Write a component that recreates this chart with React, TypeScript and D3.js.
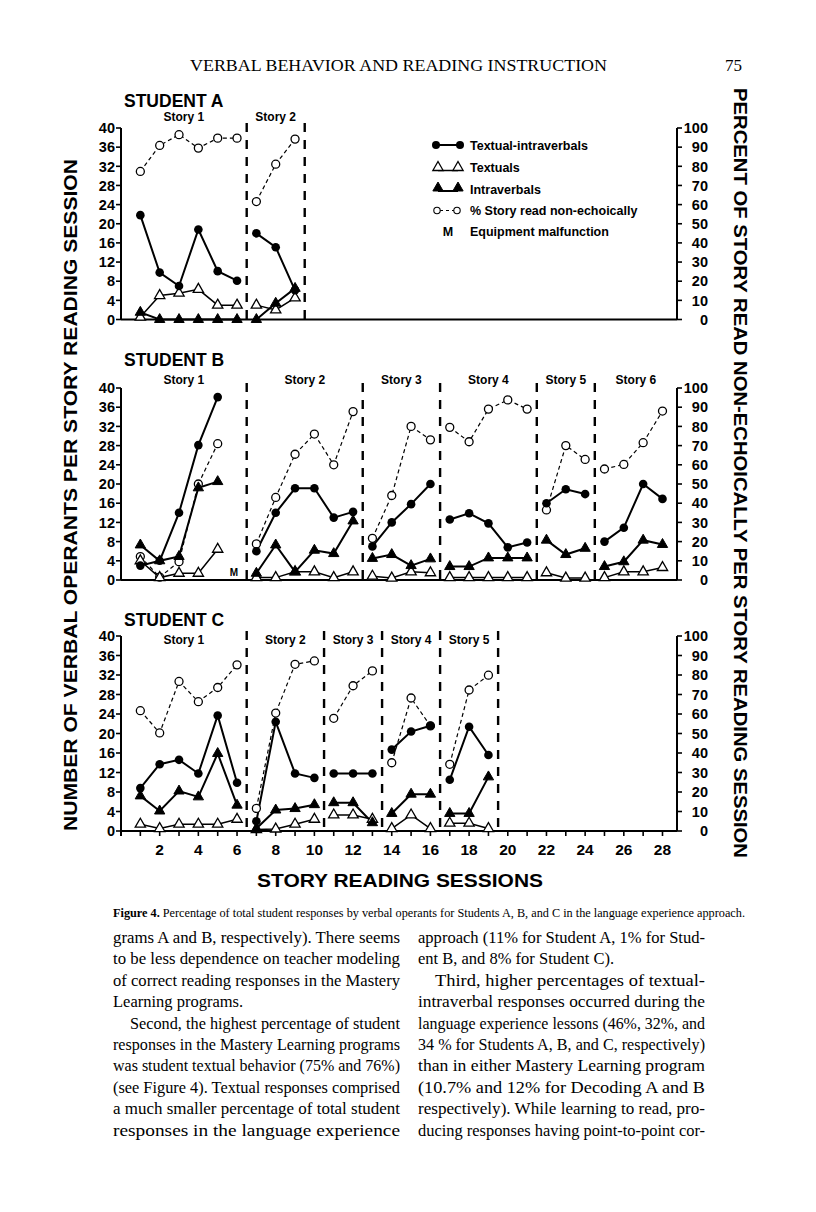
import React from 'react';
import * as d3 from 'd3';

// ---------------- data ----------------
const sessionTicks = d3.range(1, 29);
const sessionTickLabels = d3.range(2, 29, 2);
const countTicks = d3.range(0, 41, 4);
const percentTicks = d3.range(0, 101, 10);

const legendNames = ['Textual-intraverbals', 'Textuals', 'Intraverbals', '% Story read non-echoically'];
const malfunctionText = 'Equipment malfunction';

// Student A (values indexed by session, starting at session 1)
const storiesA = [[1, 6], [7, 9]];
const storyLabelsA = ['Story 1', 'Story 2'];
const textualIntraverbalA = [21.8, 9.8, 7.0, 18.8, 10.1, 8.1, 18.0, 15.1, 6.1];
const textualA = [0.5, 5, 5.5, 6.3, 3, 3, 3, 2, 4.5];
const intraverbalA = [1.5, 0, 0, 0, 0, 0, 0, 3.4, 6.5];
const percentA = [77.3, 90.9, 96.5, 89.5, 94.7, 94.7, 61.6, 81.1, 94.2];
const malfunctionA: number[] = [];

// Student B
const storiesB = [[1, 6], [7, 12], [13, 16], [17, 21], [22, 24], [25, 28]];
const storyLabelsB = ['Story 1', 'Story 2', 'Story 3', 'Story 4', 'Story 5', 'Story 6'];
const textualIntraverbalB = [3, 4, 14, 28.1, 38.1, null, 6, 14, 19.1, 19.1, 13, 14.2, 7, 12, 15.8, 20, 12.6, 13.9, 11.8, 6.8, 7.8, 16, 18.9, 17.9, 8, 10.9, 20, 16.9];
const textualB = [4, 0.5, 1.4, 1.4, 6.4, null, 0.5, 0.5, 1.7, 1.7, 0.5, 1.7, 0.8, 0.4, 1.7, 1.5, 0.5, 0.5, 0.5, 0.5, 0.5, 1.5, 0.4, 0.4, 0.5, 1.7, 1.7, 2.6];
const intraverbalB = [7.3, 4, 4.9, 19.2, 20.5, null, 1.4, 7.3, 1.7, 6.2, 5.5, 12.3, 4.5, 5.3, 3, 4.4, 2.8, 2.8, 4.6, 4.6, 4.6, 8.3, 5.3, 6.6, 2.8, 3.8, 8.3, 7.4];
const percentB = [12.2, 1.5, 9.5, 50, 71, null, 18.8, 43, 65.5, 76, 60, 87.7, 21.7, 44, 80, 73, 79.5, 72, 89, 93.8, 89, 36.5, 70, 62.8, 57.8, 60.2, 71.5, 88];
const malfunctionB = [6];

// Student C
const storiesC = [[1, 6], [7, 10], [11, 13], [14, 16], [17, 19]];
const storyLabelsC = ['Story 1', 'Story 2', 'Story 3', 'Story 4', 'Story 5'];
const textualIntraverbalC = [8.8, 13.7, 14.6, 11.8, 23.7, 9.9, 2, 22.4, 11.8, 10.9, 11.8, 11.8, 11.8, 16.7, 20.4, 21.6, 10.5, 21.4, 15.6];
const textualC = [1.4, 0.5, 1.4, 1.4, 1.4, 2.4, 0.3, 0.4, 1.4, 2.4, 3.3, 3.3, 2.4, 0.5, 3.3, 0.5, 1.6, 1.6, 0.5];
const intraverbalC = [7.2, 4.1, 8.2, 7, 15.9, 5.3, 0.5, 4.3, 4.6, 5.4, 5.8, 5.8, 1.7, 3.6, 7.55, 7.55, 3.6, 3.6, 11.1];
const percentC = [61.7, 50.3, 76.7, 66.3, 73.6, 85.2, 11.6, 60.5, 85.5, 87.2, 57.8, 74.5, 82.1, 35, 68.2, 53.9, 34.2, 72.3, 79.9];
const malfunctionC: number[] = [];

const headerTitle = 'VERBAL BEHAVIOR AND READING INSTRUCTION';
const pageNumber = '75';
const leftAxisTitle = 'NUMBER OF VERBAL OPERANTS PER STORY READING SESSION';
const rightAxisTitle = 'PERCENT OF STORY READ NON-ECHOICALLY PER STORY READING SESSION';
const xAxisTitle = 'STORY READING SESSIONS';
const captionBold = 'Figure 4.';
const captionRest = ' Percentage of total student responses by verbal operants for Students A, B, and C in the language experience approach.';

const leftColumn = [
  'grams A and B, respectively). There seems',
  'to be less dependence on teacher modeling',
  'of correct reading responses in the Mastery',
  'Learning programs.',
  'Second, the highest percentage of student',
  'responses in the Mastery Learning programs',
  'was student textual behavior (75% and 76%)',
  '(see Figure 4). Textual responses comprised',
  'a much smaller percentage of total student',
  'responses in the language experience',
];
const rightColumn = [
  'approach (11% for Student A, 1% for Stud-',
  'ent B, and 8% for Student C).',
  'Third, higher percentages of textual-',
  'intraverbal responses occurred during the',
  'language experience lessons (46%, 32%, and',
  '34 % for Students A, B, and C, respectively)',
  'than in either Mastery Learning program',
  '(10.7% and 12% for Decoding A and B',
  'respectively). While learning to read, pro-',
  'ducing responses having point-to-point cor-',
];
const leftRagged = [3];
const rightRagged = [1];
const leftIndent = [4];
const rightIndent = [2];

// ---------------- drawing ----------------
const SANS = '"Liberation Sans", Arial, Helvetica, sans-serif';
const SERIF = '"Liberation Serif", "Times New Roman", serif';
const X_LEFT = 121;
const X_RIGHT = 677;
const x = d3.scaleLinear().domain([0, 28.75]).range([X_LEFT, X_RIGHT]);
const triPath = d3.symbol().type(d3.symbolTriangle).size(46)() as string;

type PanelProps = {
  title: string;
  titleY: number;
  labelY: number;
  top: number;
  bottom: number;
  stories: number[][];
  labels: string[];
  ti: (number | null)[];
  t: (number | null)[];
  iv: (number | null)[];
  pct: (number | null)[];
  malfunction: number[];
  closingDivider: boolean;
  bottomTicks: boolean;
};

function segments(values: (number | null)[], stories: number[][]) {
  return stories.map(([s, e]) => {
    const pts: [number, number][] = [];
    for (let k = s; k <= e; k++) {
      const v = values[k - 1];
      if (v !== null && v !== undefined) pts.push([k, v]);
    }
    return pts;
  });
}

function Panel(p: PanelProps) {
  const y = d3.scaleLinear().domain([0, 40]).range([p.bottom, p.top]);
  const yp = d3.scaleLinear().domain([0, 100]).range([p.bottom, p.top]);
  const lineC = d3.line<[number, number]>().x(d => x(d[0])).y(d => y(d[1]));
  const lineP = d3.line<[number, number]>().x(d => x(d[0])).y(d => yp(d[1]));

  const dividers: number[] = [];
  p.stories.forEach(([, e], i) => {
    if (i < p.stories.length - 1 || p.closingDivider) dividers.push(e + 0.5);
  });
  const bounds = p.stories.map((_, i) => {
    const left = i === 0 ? 0 : p.stories[i - 1][1] + 0.5;
    const right = i < dividers.length ? dividers[i] : x.domain()[1];
    return (left + right) / 2;
  });

  const tiSeg = segments(p.ti, p.stories);
  const tSeg = segments(p.t, p.stories);
  const ivSeg = segments(p.iv, p.stories);
  const pSeg = segments(p.pct, p.stories);

  return (
    <g>
      <text x={124} y={p.titleY} fontFamily={SANS} fontWeight="bold" fontSize={17.5}>{p.title}</text>
      {p.labels.map((l, i) => (
        <text key={l} x={x(bounds[i])} y={p.labelY} textAnchor="middle" fontFamily={SANS} fontWeight="bold" fontSize={12}>{l}</text>
      ))}
      {/* axes */}
      <line x1={X_LEFT} x2={X_LEFT} y1={p.top} y2={p.bottom + (p.bottomTicks ? 5 : 0)} stroke="#000" strokeWidth={2} />
      <line x1={X_RIGHT} x2={X_RIGHT} y1={p.top} y2={p.bottom} stroke="#000" strokeWidth={2} />
      <line x1={X_LEFT} x2={X_RIGHT} y1={p.bottom} y2={p.bottom} stroke="#000" strokeWidth={2} />
      {countTicks.map(v => (
        <g key={'c' + v}>
          <line x1={X_LEFT - 5} x2={X_LEFT} y1={y(v)} y2={y(v)} stroke="#000" strokeWidth={1.6} />
          <text x={X_LEFT - 6} y={y(v)} dy="0.36em" textAnchor="end" fontFamily={SANS} fontWeight="bold" fontSize={14.5}>{v}</text>
        </g>
      ))}
      {percentTicks.map(v => (
        <g key={'p' + v}>
          <line x1={X_RIGHT} x2={X_RIGHT + 5} y1={yp(v)} y2={yp(v)} stroke="#000" strokeWidth={1.6} />
          <text x={708} y={yp(v)} dy="0.36em" textAnchor="end" fontFamily={SANS} fontWeight="bold" fontSize={14.5}>{v}</text>
        </g>
      ))}
      {p.bottomTicks && sessionTicks.map(s => (
        <line key={'s' + s} x1={x(s)} x2={x(s)} y1={p.bottom} y2={p.bottom + 5} stroke="#000" strokeWidth={1.6} />
      ))}
      {p.bottomTicks && sessionTickLabels.map(s => (
        <text key={'sl' + s} x={x(s)} y={p.bottom + 24} textAnchor="middle" fontFamily={SANS} fontWeight="bold" fontSize={15.5}>{s}</text>
      ))}
      {/* story dividers */}
      {dividers.map(d => (
        <line key={'d' + d} x1={x(d)} x2={x(d)} y1={p.top - 5} y2={p.bottom} stroke="#000" strokeWidth={2.4} strokeDasharray="9,8" />
      ))}
      {/* lines */}
      {pSeg.map((s, i) => <path key={'lp' + i} d={lineP(s) || ''} fill="none" stroke="#000" strokeWidth={1.2} strokeDasharray="4,3" />)}
      {tSeg.map((s, i) => <path key={'lt' + i} d={lineC(s) || ''} fill="none" stroke="#000" strokeWidth={1.5} />)}
      {ivSeg.map((s, i) => <path key={'li' + i} d={lineC(s) || ''} fill="none" stroke="#000" strokeWidth={2} />)}
      {tiSeg.map((s, i) => <path key={'lti' + i} d={lineC(s) || ''} fill="none" stroke="#000" strokeWidth={2} />)}
      {/* markers */}
      {pSeg.flat().map(([k, v]) => <circle key={'mp' + k} cx={x(k)} cy={yp(v)} r={4} fill="#fff" stroke="#000" strokeWidth={1.3} />)}
      {tSeg.flat().map(([k, v]) => <path key={'mt' + k} d={triPath} transform={`translate(${x(k)},${y(v)})`} fill="#fff" stroke="#000" strokeWidth={1.3} />)}
      {ivSeg.flat().map(([k, v]) => <path key={'mi' + k} d={triPath} transform={`translate(${x(k)},${y(v)})`} fill="#000" stroke="#000" strokeWidth={1} />)}
      {tiSeg.flat().map(([k, v]) => <circle key={'mti' + k} cx={x(k)} cy={y(v)} r={4.3} fill="#000" />)}
      {p.malfunction.map(k => (
        <text key={'m' + k} x={x(k) - 3} y={p.bottom - 4} textAnchor="middle" fontFamily={SANS} fontWeight="bold" fontSize={10}>M</text>
      ))}
    </g>
  );
}

function Legend() {
  const tx = 470;
  const fs = 12.5;
  return (
    <g fontFamily={SANS} fontWeight="bold" fontSize={fs}>
      <line x1={436} x2={460} y1={145} y2={145} stroke="#000" strokeWidth={2} />
      <circle cx={436} cy={145} r={4} fill="#000" />
      <circle cx={460} cy={145} r={4} fill="#000" />
      <text x={tx} y={149.5}>{legendNames[0]}</text>

      <line x1={438} x2={458} y1={170.5} y2={170.5} stroke="#000" strokeWidth={1.5} />
      <path d={triPath} transform="translate(438,167.5)" fill="#fff" stroke="#000" strokeWidth={1.3} />
      <path d={triPath} transform="translate(458,167.5)" fill="#fff" stroke="#000" strokeWidth={1.3} />
      <text x={tx} y={172}>{legendNames[1]}</text>

      <line x1={438} x2={458} y1={191} y2={191} stroke="#000" strokeWidth={2} />
      <path d={triPath} transform="translate(438,188)" fill="#000" stroke="#000" />
      <path d={triPath} transform="translate(458,188)" fill="#000" stroke="#000" />
      <text x={tx} y={193.5}>{legendNames[2]}</text>

      <line x1={440} x2={454} y1={210.5} y2={210.5} stroke="#000" strokeWidth={1.2} strokeDasharray="3,3" />
      <circle cx={437} cy={210.5} r={3.2} fill="#fff" stroke="#000" strokeWidth={1.1} />
      <circle cx={457} cy={210.5} r={3.2} fill="#fff" stroke="#000" strokeWidth={1.1} />
      <text x={tx} y={214.5}>{legendNames[3]}</text>

      <text x={448} y={235.5} textAnchor="middle">M</text>
      <text x={tx} y={235.5}>{malfunctionText}</text>
    </g>
  );
}

function Column({ lines, x0, width, ragged, indent }: { lines: string[]; x0: number; width: number; ragged: number[]; indent: number[] }) {
  return (
    <g fontFamily={SERIF} fontSize={16.5}>
      {lines.map((l, i) => {
        const ind = indent.includes(i) ? 17 : 0;
        const yy = 943 + i * 21.4;
        return ragged.includes(i) ? (
          <text key={i} x={x0 + ind} y={yy}>{l}</text>
        ) : (
          <text key={i} x={x0 + ind} y={yy} textLength={width - ind} lengthAdjust="spacingAndGlyphs">{l}</text>
        );
      })}
    </g>
  );
}

export default function App() {
  return (
    <svg width={816} height={1212} viewBox="0 0 816 1212" style={{ position: 'absolute', left: 0, top: 0, background: '#fff' }}>
      <rect x={0} y={0} width={816} height={1212} fill="#fff" />
      <text x={190} y={71} fontFamily={SERIF} fontSize={17} textLength={417} lengthAdjust="spacingAndGlyphs">{headerTitle}</text>
      <text x={742} y={71} textAnchor="end" fontFamily={SERIF} fontSize={17}>{pageNumber}</text>

      <Panel title="STUDENT A" titleY={106.5} labelY={121} top={128} bottom={319.5}
        stories={storiesA} labels={storyLabelsA} ti={textualIntraverbalA} t={textualA} iv={intraverbalA} pct={percentA}
        malfunction={malfunctionA} closingDivider={true} bottomTicks={false} />
      <Panel title="STUDENT B" titleY={366} labelY={384} top={388} bottom={580}
        stories={storiesB} labels={storyLabelsB} ti={textualIntraverbalB} t={textualB} iv={intraverbalB} pct={percentB}
        malfunction={malfunctionB} closingDivider={false} bottomTicks={false} />
      <Panel title="STUDENT C" titleY={626} labelY={644} top={636} bottom={831}
        stories={storiesC} labels={storyLabelsC} ti={textualIntraverbalC} t={textualC} iv={intraverbalC} pct={percentC}
        malfunction={malfunctionC} closingDivider={true} bottomTicks={true} />

      <Legend />

      <text transform="translate(77,495) rotate(-90)" textAnchor="middle" fontFamily={SANS} fontWeight="bold" fontSize={19}
        textLength={672} lengthAdjust="spacingAndGlyphs">{leftAxisTitle}</text>
      <text transform="translate(734,473) rotate(90)" textAnchor="middle" fontFamily={SANS} fontWeight="bold" fontSize={19}
        textLength={770} lengthAdjust="spacingAndGlyphs">{rightAxisTitle}</text>
      <text x={400} y={887} textAnchor="middle" fontFamily={SANS} fontWeight="bold" fontSize={19}
        textLength={286} lengthAdjust="spacingAndGlyphs">{xAxisTitle}</text>

      <text x={113} y={917} fontFamily={SERIF} fontSize={12.5} textLength={632} lengthAdjust="spacingAndGlyphs">
        <tspan fontWeight="bold">{captionBold}</tspan>
        <tspan>{captionRest}</tspan>
      </text>

      <Column lines={leftColumn} x0={113} width={287} ragged={leftRagged} indent={leftIndent} />
      <Column lines={rightColumn} x0={418} width={287} ragged={rightRagged} indent={rightIndent} />
    </svg>
  );
}
